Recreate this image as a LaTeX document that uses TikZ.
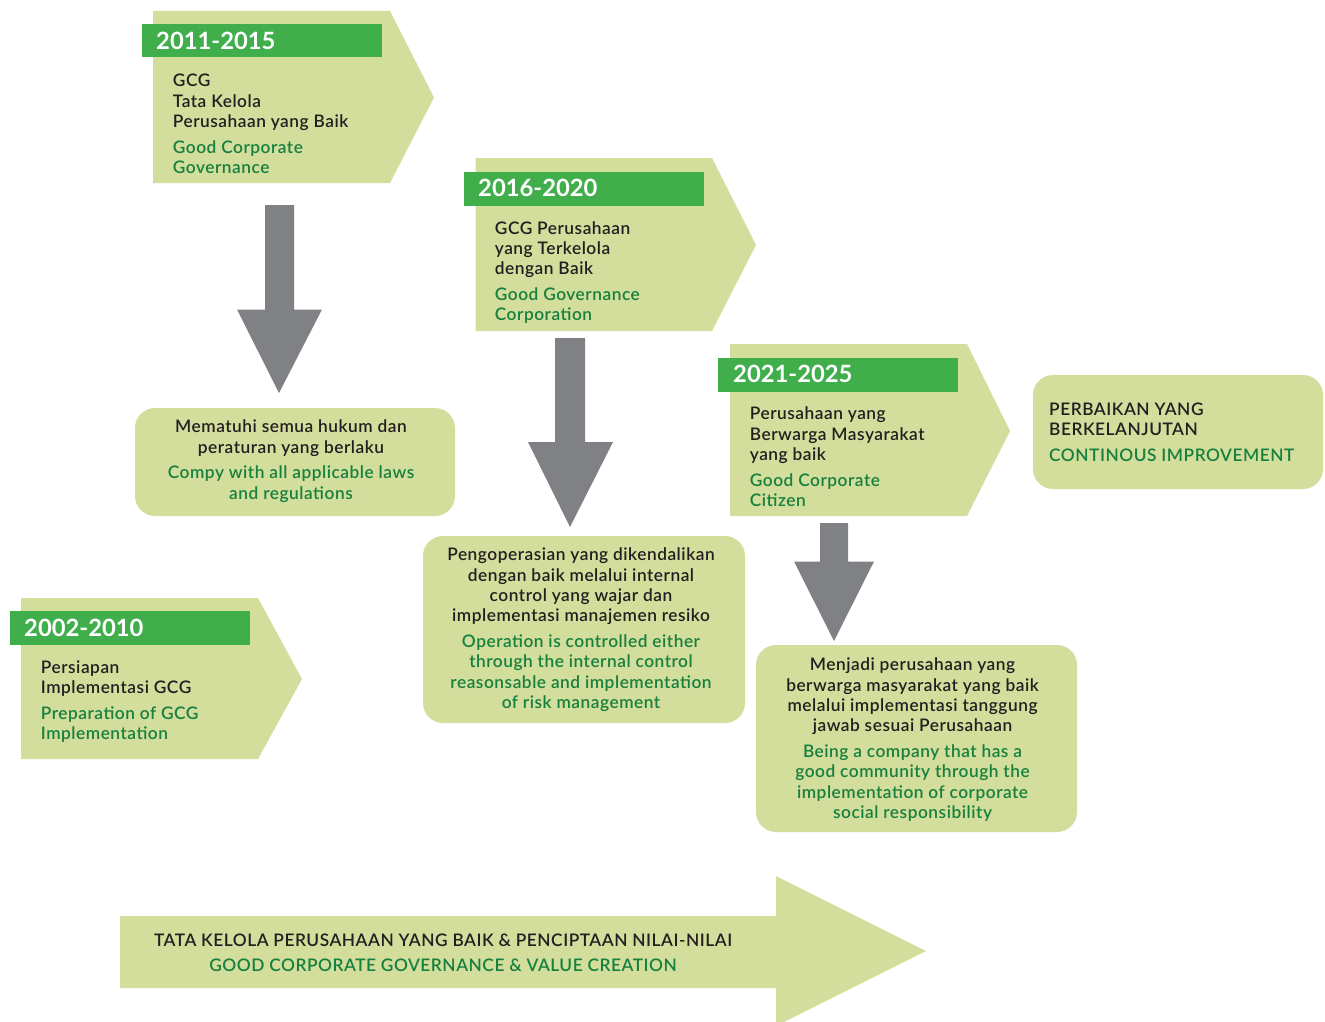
\documentclass[tikz,border=0pt]{standalone}
\usepackage{fontspec}
\setmainfont{Lato}
\IfFontExistsTF{Lato Semibold}
  {\newfontfamily\bodyfont{Lato Semibold}[LetterSpace=3]}
  {\newfontfamily\bodyfont{Lato}[FakeBold=0.6,LetterSpace=5]}
\definecolor{lgreen}{RGB}{211,221,156}
\definecolor{bgreen}{RGB}{64,174,74}
\definecolor{tgreen}{RGB}{22,128,62}
\definecolor{dtext}{RGB}{35,31,32}
\definecolor{garrowc}{RGB}{128,129,133}
\tikzset{
  pentshape/.style={fill=lgreen, draw=none},
  yearbar/.style={fill=bgreen, draw=none},
  yeartxt/.style={font=\fontsize{23.8}{28}\selectfont\bfseries, text=white, inner sep=0pt, anchor=base west},
  bodytxt/.style={font=\bodyfont\fontsize{17.3}{20.3}\selectfont, text=dtext, inner sep=0pt, align=left, anchor=north west},
  ctrtxt/.style={font=\bodyfont\fontsize{17.3}{20.3}\selectfont, text=dtext, inner sep=0pt, align=center, anchor=north},
  grayarrow/.style={fill=garrowc, draw=none},
  rbox/.style={fill=lgreen, draw=none, rounded corners=20pt}
}
\newcommand{\eng}[1]{\textcolor{tgreen}{#1}}
\begin{document}
\begin{tikzpicture}[x=1pt,y=-1pt]
\useasboundingbox (0,0) rectangle (1325,1022);

% ---------- 2011-2015 ----------
\path[pentshape] (153,11) -- (390,11) -- (434,97.5) -- (390,183) -- (153,183) -- cycle;
\path[yearbar] (142,24) rectangle (382,57.3);
\node[yeartxt] (y1) at (156,49.3) {2011-2015};
\node[bodytxt] (t1) at (172.7,72.5) {\strut GCG\\Tata Kelola\\Perusahaan yang Baik\\[5.4pt]\eng{Good Corporate}\\\eng{Governance}};

% ---------- 2016-2020 ----------
\path[pentshape] (475.5,158) -- (712,158) -- (756,245) -- (712,331) -- (475.5,331) -- cycle;
\path[yearbar] (464,172) rectangle (704,205.5);
\node[yeartxt] (y2) at (478,196.3) {2016-2020};
\node[bodytxt] (t2) at (494.7,219.8) {\strut GCG Perusahaan\\yang Terkelola\\dengan Baik\\[5.4pt]\eng{Good Governance}\\\eng{Corporation}};

% ---------- 2021-2025 ----------
\path[pentshape] (730,344) -- (967,344) -- (1010,431) -- (967,516) -- (730,516) -- cycle;
\path[yearbar] (718,358) rectangle (958,392);
\node[yeartxt] (y3) at (733,382.3) {2021-2025};
\node[bodytxt] (t3) at (749.7,405.3) {\strut Perusahaan yang\\Berwarga Masyarakat\\yang baik\\[5.4pt]\eng{Good Corporate}\\\eng{Citizen}};

% ---------- 2002-2010 ----------
\path[pentshape] (21,598) -- (258,598) -- (302,679) -- (258,759) -- (21,759) -- cycle;
\path[yearbar] (10,611) rectangle (250,645);
\node[yeartxt] (y4) at (24,636) {2002-2010};
\node[bodytxt] (t4) at (40.7,658.8) {\strut Persiapan\\Implementasi GCG\\[5.4pt]\eng{Preparation of GCG}\\\eng{Implementation}};

% ---------- gray arrows ----------
\path[grayarrow] (265,205) -- (294,205) -- (294,309.5) -- (322,309.5) -- (279,393) -- (237,309.5) -- (265,309.5) -- cycle;
\path[grayarrow] (555,338) -- (585,338) -- (585,442) -- (613,442) -- (570,527) -- (528,442) -- (555,442) -- cycle;
\path[grayarrow] (820,523) -- (848,523) -- (848,561.5) -- (874,561.5) -- (834,641) -- (794,561.5) -- (820,561.5) -- cycle;

% ---------- rounded boxes ----------
\path[rbox] (135,408) rectangle (455,516);
\node[ctrtxt] (ba) at (291,418.5) {\strut Mematuhi semua hukum dan\\peraturan yang berlaku\\[5.4pt]\eng{Compy with all applicable laws}\\\eng{and regulations}};

\path[rbox] (423,536) rectangle (745,723);
\node[ctrtxt] (bb) at (581,546.5) {\strut Pengoperasian yang dikendalikan\\dengan baik melalui internal\\control yang wajar dan\\implementasi manajemen resiko\\[5.4pt]\eng{Operation is controlled either}\\\eng{through the internal control}\\\eng{reasonsable and implementation}\\\eng{of risk management}};

\path[rbox] (756,645) rectangle (1077,832);
\node[ctrtxt] (bc) at (912.5,656.5) {\strut Menjadi perusahaan yang\\berwarga masyarakat yang baik\\melalui implementasi tanggung\\jawab sesuai Perusahaan\\[5.4pt]\eng{Being a company that has a}\\\eng{good community through the}\\\eng{implementation of corporate}\\\eng{social responsibility}};

\path[rbox] (1033,375) rectangle (1323,489);
\node[bodytxt] (bd) at (1049,400.8) {\strut PERBAIKAN YANG\\BERKELANJUTAN\\[5.4pt]\eng{CONTINOUS IMPROVEMENT}};

% ---------- big arrow ----------
\path[pentshape] (120,916) -- (776,916) -- (776,876) -- (926,951) -- (776,1026) -- (776,988) -- (120,988) -- cycle;
\node[ctrtxt] (big) at (443,931.8) {\strut TATA KELOLA PERUSAHAAN YANG BAIK \& PENCIPTAAN NILAI-NILAI\\[4.7pt]\eng{GOOD CORPORATE GOVERNANCE \& VALUE CREATION}};
\end{tikzpicture}
\end{document}
